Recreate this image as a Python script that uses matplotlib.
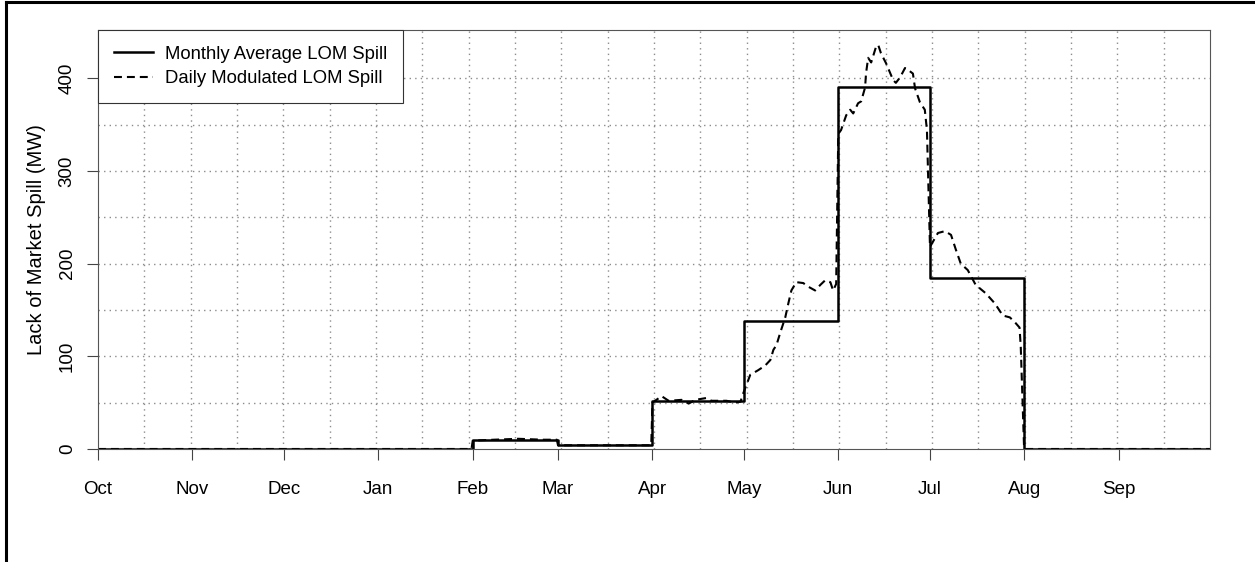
import matplotlib
matplotlib.use('Agg')
import matplotlib.pyplot as plt
from matplotlib.lines import Line2D

plt.rcParams['font.family'] = ['Liberation Sans', 'DejaVu Sans']

# water year, day 0 = Oct 1
month_labels = ['Oct', 'Nov', 'Dec', 'Jan', 'Feb', 'Mar',
                'Apr', 'May', 'Jun', 'Jul', 'Aug', 'Sep']
month_start = [0, 31, 61, 92, 123, 151, 182, 212, 243, 273, 304, 335]
year_end = 365

monthly_mw = [0, 0, 0, 0, 10, 4, 52, 138, 391, 184, 0, 0]

daily_day = [0, 122.6, 123, 130, 138, 146, 150.6, 151, 181.6,
             182, 185, 187.3, 191.6, 193.9, 196.1, 199.7, 201.4, 206.3, 209.2, 210.9,
             211.8, 214.1, 216.7, 219, 220.7, 221.7, 222.7, 224, 225.6, 226.6, 227.6,
             229.2, 231.5, 233.2, 235.4, 237.1, 238.7, 240.4, 241.3, 242.3,
             243, 243.9, 245.6, 246.9, 247.9, 249.5, 250.5, 251.8, 252.1, 252.8,
             253.8, 255.4, 256.1, 257, 258.7, 261, 261.9, 263.3, 264.9, 265.9,
             267.5, 268.2, 269.8, 271.4, 272.1,
             273.1, 275.7, 278, 280, 281.6, 283.2, 285.5, 288.1, 291.4, 294.4,
             297, 299.3, 300.9, 302.5, 302.9, 304, 365]
daily_mw = [0, 0, 9, 10, 11, 10, 10, 4, 4,
            50, 57, 52, 53, 49, 53, 55, 52, 52, 50, 51,
            60, 80, 85, 90, 96, 107, 112, 126, 142, 157, 171,
            180, 179, 175, 171, 177, 182, 180, 171, 178,
            340, 344, 360, 366, 362, 373, 375, 390, 405, 422,
            417, 434, 436, 427, 416, 398, 395, 401, 411, 409,
            405, 389, 374, 366, 344,
            218, 233, 235, 231, 215, 200, 193, 177, 168, 157,
            144, 142, 137, 131, 110, 0, 0]

fig = plt.figure(figsize=(12.55, 5.62), dpi=100)
ax = fig.add_axes([0.0781, 0.2011, 0.8860, 0.7455])

# dotted grid
for k in range(1, 24):
    ax.axvline(year_end * k / 24, color='#8c8c8c', lw=1.0, ls=(0, (1, 3)), zorder=0)
for v in range(50, 450, 50):
    ax.axhline(v, color='#8c8c8c', lw=1.0, ls=(0, (1, 3)), zorder=0)

ax.step(month_start + [year_end], monthly_mw + [monthly_mw[-1]], where='post',
        color='black', lw=1.8, label='Monthly Average LOM Spill')
ax.plot(daily_day, daily_mw, color='black', lw=1.5, dashes=(3.8, 2.4),
        label='Daily Modulated LOM Spill')

ax.set_xlim(0, year_end)
ax.set_ylim(0, 452)
ax.set_xticks(month_start)
ax.set_xticklabels(month_labels)
ax.set_yticks([0, 100, 200, 300, 400])
ax.set_yticklabels(['0', '100', '200', '300', '400'], rotation=90, va='center')
ax.tick_params(length=8, width=0.8, color='#444444', labelsize=13.5, pad=15)
ax.tick_params(axis='y', pad=8)
for s in ax.spines.values():
    s.set_color('#555555')
    s.set_linewidth(0.8)
ax.set_ylabel('Lack of Market Spill (MW)', fontsize=14.5, labelpad=9)

leg = ax.legend(loc='upper left', bbox_to_anchor=(0, 1), borderaxespad=0,
                fancybox=False, framealpha=1, edgecolor='#333333',
                fontsize=13.3, handlelength=2.1, handletextpad=0.7,
                borderpad=0.85, labelspacing=0.4)
leg.get_frame().set_linewidth(0.8)

# outer frame of the picture (top and left)
fig.add_artist(Line2D([0.0048, 0.0048], [0, 0.997], transform=fig.transFigure,
                      color='black', lw=2.2))
fig.add_artist(Line2D([0.0048, 1], [0.9964, 0.9964], transform=fig.transFigure,
                      color='black', lw=2.2))

fig.savefig('out.png', dpi=100)
